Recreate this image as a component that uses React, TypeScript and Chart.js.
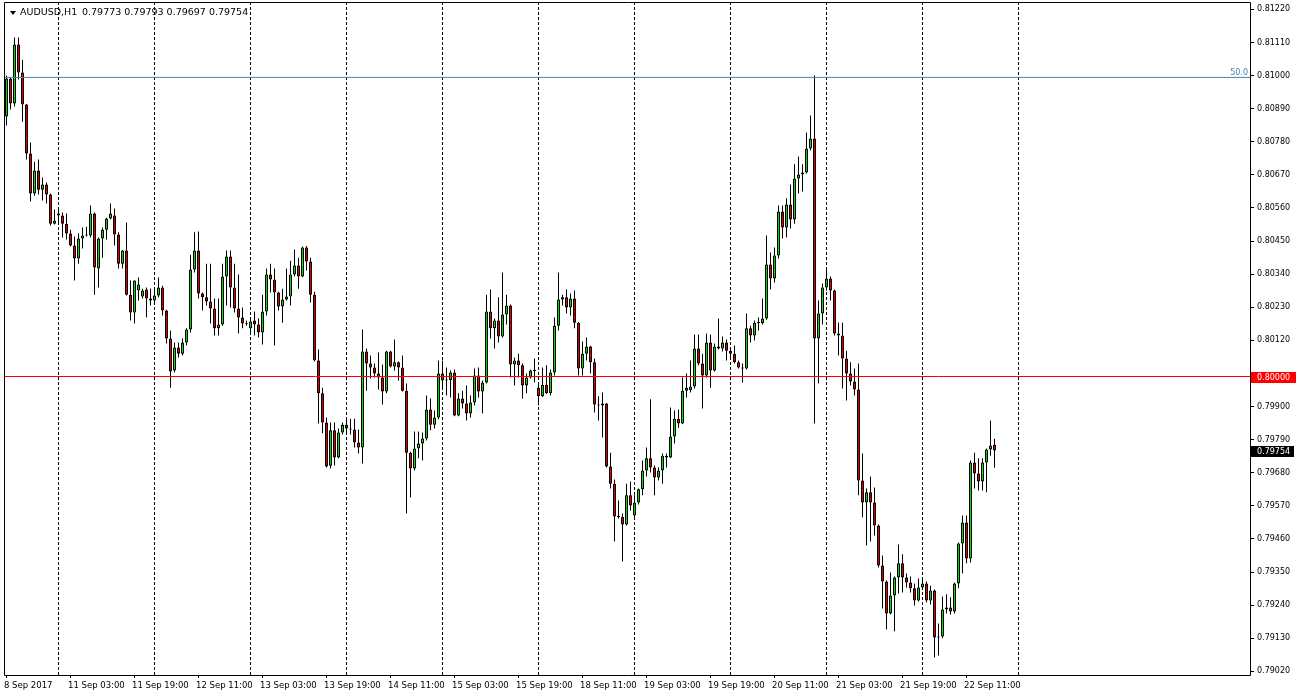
import { useEffect, useRef } from "react";
import { Chart, registerables } from "chart.js";

Chart.register(...registerables);

const symbolName = "AUDUSD,H1";
const lastBarText = "0.79773 0.79793 0.79697 0.79754";
const lastClose = 0.79754;
const priceLevel = 0.8;
const fiboLevel = 0.80994;
const fiboText = "50.0";

const opens = [
  0.80864,0.80990,0.80907,0.81103,0.81010,0.80904,0.80741,0.80608,0.80685,0.80621,
  0.80638,0.80605,0.80508,0.80542,0.80535,0.80508,0.80475,0.80435,0.80392,0.80459,
  0.80469,0.80469,0.80542,0.80359,0.80459,0.80488,0.80525,0.80535,0.80472,0.80375,
  0.80419,0.80272,0.80213,0.80286,0.80266,0.80289,0.80259,0.80253,0.80269,0.80296,
  0.80219,0.80126,0.80020,0.80096,0.80076,0.80113,0.80156,0.80356,0.80419,0.80276,
  0.80263,0.80249,0.80226,0.80160,0.80173,0.80332,0.80399,0.80296,0.80226,0.80196,
  0.80176,0.80160,0.80186,0.80173,0.80146,0.80216,0.80339,0.80322,0.80279,0.80233,
  0.80256,0.80266,0.80339,0.80369,0.80332,0.80429,0.80382,0.80272,0.80053,0.79944,
  0.79847,0.79703,0.79821,0.79731,0.79814,0.79840,0.79827,0.79824,0.79781,0.79764,
  0.80083,0.80043,0.80030,0.80010,0.79997,0.79950,0.80083,0.80033,0.80047,0.80030,
  0.79953,0.79747,0.79694,0.79761,0.79777,0.79794,0.79890,0.79840,0.79864,0.80010,
  0.79987,0.79988,0.80013,0.79870,0.79927,0.79910,0.79877,0.79914,0.80003,0.79950,
  0.79980,0.80216,0.80160,0.80186,0.80133,0.80206,0.80236,0.80040,0.80053,0.80037,
  0.79970,0.79997,0.80020,0.79963,0.79934,0.79973,0.79944,0.80013,0.80169,0.80256,
  0.80263,0.80229,0.80259,0.80179,0.80027,0.80076,0.80100,0.80047,0.79907,0.79904,
  0.79910,0.79701,0.79644,0.79535,0.79533,0.79508,0.79605,0.79538,0.79581,0.79625,
  0.79688,0.79728,0.79698,0.79664,0.79688,0.79737,0.79731,0.79801,0.79860,0.79844,
  0.79953,0.79955,0.79967,0.80093,0.80043,0.80003,0.80113,0.80020,0.80100,0.80093,
  0.80113,0.80086,0.80076,0.80047,0.80030,0.80027,0.80160,0.80136,0.80179,0.80178,
  0.80193,0.80372,0.80326,0.80402,0.80548,0.80495,0.80572,0.80522,0.80658,0.80671,
  0.80678,0.80758,0.80791,0.80126,0.80209,0.80296,0.80326,0.80286,0.80143,0.80136,
  0.80060,0.80010,0.79983,0.79957,0.79654,0.79581,0.79615,0.79581,0.79505,0.79372,
  0.79319,0.79212,0.79272,0.79332,0.79379,0.79332,0.79315,0.79296,0.79256,0.79299,
  0.79312,0.79256,0.79289,0.79133,0.79136,0.79226,0.79232,0.79219,0.79312,0.79445,
  0.79515,0.79395,0.79714,0.79678,0.79651,0.79714,0.79757,0.79773,
];

const highs = [
  0.81000,0.80994,0.81127,0.81127,0.81053,0.80906,0.80778,0.80714,0.80721,0.80661,
  0.80645,0.80608,0.80555,0.80558,0.80545,0.80542,0.80488,0.80465,0.80475,0.80495,
  0.80498,0.80568,0.80545,0.80462,0.80495,0.80528,0.80575,0.80558,0.80479,0.80420,
  0.80512,0.80319,0.80319,0.80329,0.80292,0.80296,0.80292,0.80296,0.80329,0.80302,
  0.80222,0.80153,0.80113,0.80113,0.80126,0.80160,0.80405,0.80479,0.80482,0.80279,
  0.80375,0.80375,0.80259,0.80259,0.80375,0.80419,0.80419,0.80375,0.80339,0.80229,
  0.80186,0.80193,0.80216,0.80193,0.80272,0.80359,0.80375,0.80359,0.80282,0.80292,
  0.80359,0.80385,0.80422,0.80395,0.80432,0.80434,0.80395,0.80282,0.80090,0.79963,
  0.79864,0.79847,0.79847,0.79827,0.79847,0.79864,0.79860,0.79860,0.79824,0.80156,
  0.80093,0.80070,0.80043,0.80080,0.80040,0.80086,0.80086,0.80123,0.80050,0.80070,
  0.79977,0.79750,0.79817,0.79817,0.79814,0.79937,0.79927,0.79887,0.80053,0.80053,
  0.80030,0.80020,0.80023,0.79944,0.79953,0.79970,0.79937,0.80027,0.80030,0.79987,
  0.80272,0.80289,0.80193,0.80263,0.80346,0.80272,0.80239,0.80063,0.80076,0.80043,
  0.80010,0.80023,0.80060,0.79977,0.80030,0.80037,0.80023,0.80196,0.80346,0.80272,
  0.80289,0.80276,0.80286,0.80181,0.80116,0.80130,0.80102,0.80060,0.79934,0.79947,
  0.79912,0.79747,0.79658,0.79588,0.79545,0.79644,0.79651,0.79605,0.79628,0.79721,
  0.79764,0.79924,0.79704,0.79698,0.79744,0.79744,0.79897,0.79887,0.79890,0.79997,
  0.80010,0.80053,0.80140,0.80140,0.80076,0.80143,0.80140,0.80110,0.80193,0.80133,
  0.80123,0.80096,0.80103,0.80053,0.80043,0.80209,0.80169,0.80186,0.80196,0.80259,
  0.80469,0.80412,0.80429,0.80568,0.80568,0.80592,0.80638,0.80705,0.80731,0.80705,
  0.80811,0.80867,0.81000,0.80253,0.80309,0.80359,0.80332,0.80289,0.80179,0.80179,
  0.80086,0.80047,0.80027,0.80043,0.79744,0.79628,0.79668,0.79631,0.79508,0.79405,
  0.79322,0.79349,0.79335,0.79442,0.79409,0.79345,0.79335,0.79312,0.79329,0.79332,
  0.79319,0.79305,0.79292,0.79179,0.79269,0.79276,0.79266,0.79315,0.79448,0.79538,
  0.79538,0.79721,0.79747,0.79728,0.79728,0.79761,0.79854,0.79793,
];

const lows = [
  0.80834,0.80887,0.80897,0.80987,0.80847,0.80721,0.80582,0.80601,0.80605,0.80585,
  0.80575,0.80502,0.80505,0.80508,0.80462,0.80455,0.80432,0.80319,0.80375,0.80425,
  0.80465,0.80462,0.80272,0.80296,0.80395,0.80455,0.80522,0.80435,0.80359,0.80359,
  0.80269,0.80186,0.80176,0.80253,0.80259,0.80196,0.80236,0.80243,0.80263,0.80203,
  0.80110,0.79963,0.80013,0.80063,0.80070,0.80103,0.80146,0.80346,0.80259,0.80219,
  0.80236,0.80176,0.80136,0.80136,0.80169,0.80236,0.80229,0.80213,0.80143,0.80160,
  0.80169,0.80143,0.80136,0.80130,0.80106,0.80203,0.80279,0.80103,0.80219,0.80179,
  0.80253,0.80236,0.80332,0.80292,0.80330,0.80352,0.80246,0.80050,0.79844,0.79811,
  0.79698,0.79694,0.79704,0.79728,0.79807,0.79811,0.79807,0.79764,0.79744,0.79711,
  0.79953,0.79993,0.79997,0.79957,0.79907,0.79944,0.80030,0.80020,0.79987,0.79950,
  0.79545,0.79598,0.79688,0.79728,0.79721,0.79787,0.79821,0.79827,0.79858,0.79960,
  0.79937,0.79930,0.79868,0.79868,0.79894,0.79854,0.79864,0.79904,0.79930,0.79877,
  0.79977,0.80126,0.80093,0.80113,0.80130,0.80173,0.79997,0.79970,0.79997,0.79927,
  0.79944,0.79993,0.79980,0.79904,0.79932,0.79942,0.79937,0.80003,0.80153,0.80236,
  0.80209,0.80203,0.80160,0.80003,0.80003,0.80053,0.80010,0.79880,0.79854,0.79797,
  0.79698,0.79628,0.79452,0.79528,0.79385,0.79505,0.79555,0.79532,0.79575,0.79605,
  0.79668,0.79681,0.79605,0.79654,0.79644,0.79698,0.79729,0.79777,0.79830,0.79842,
  0.79930,0.79947,0.79960,0.80037,0.79894,0.79997,0.79963,0.80017,0.80090,0.80083,
  0.80053,0.80063,0.80043,0.80027,0.79980,0.80023,0.80113,0.80120,0.80153,0.80173,
  0.80189,0.80289,0.80312,0.80392,0.80459,0.80462,0.80492,0.80508,0.80608,0.80615,
  0.80675,0.80751,0.79844,0.79977,0.80173,0.80286,0.80253,0.80136,0.80070,0.79960,
  0.79920,0.79970,0.79937,0.79605,0.79532,0.79438,0.79452,0.79472,0.79365,0.79229,
  0.79159,0.79210,0.79153,0.79279,0.79282,0.79299,0.79282,0.79239,0.79252,0.79292,
  0.79249,0.79242,0.79066,0.79073,0.79130,0.79212,0.79209,0.79212,0.79296,0.79345,
  0.79379,0.79382,0.79628,0.79621,0.79621,0.79615,0.79737,0.79697,
];

const closes = [
  0.80990,0.80907,0.81103,0.81010,0.80904,0.80741,0.80608,0.80685,0.80621,0.80638,
  0.80605,0.80508,0.80518,0.80535,0.80508,0.80475,0.80435,0.80392,0.80459,0.80469,
  0.80470,0.80542,0.80362,0.80459,0.80488,0.80525,0.80542,0.80472,0.80375,0.80419,
  0.80272,0.80213,0.80319,0.80306,0.80286,0.80259,0.80253,0.80269,0.80296,0.80219,
  0.80126,0.80017,0.80096,0.80076,0.80113,0.80156,0.80356,0.80419,0.80276,0.80263,
  0.80249,0.80226,0.80160,0.80173,0.80332,0.80399,0.80296,0.80226,0.80196,0.80176,
  0.80174,0.80183,0.80173,0.80146,0.80216,0.80339,0.80322,0.80279,0.80233,0.80256,
  0.80266,0.80339,0.80369,0.80332,0.80429,0.80382,0.80272,0.80053,0.79944,0.79847,
  0.79701,0.79821,0.79731,0.79814,0.79840,0.79827,0.79824,0.79781,0.79764,0.80083,
  0.80043,0.80030,0.80010,0.79997,0.79950,0.80083,0.80033,0.80047,0.80030,0.79953,
  0.79747,0.79694,0.79761,0.79777,0.79794,0.79890,0.79840,0.79864,0.80010,0.79987,
  0.79988,0.80013,0.79870,0.79927,0.79910,0.79877,0.79914,0.80003,0.79950,0.79980,
  0.80216,0.80160,0.80186,0.80133,0.80206,0.80236,0.80040,0.80053,0.80037,0.79970,
  0.79997,0.80020,0.80018,0.79934,0.79973,0.79944,0.80013,0.80169,0.80256,0.80263,
  0.80229,0.80259,0.80179,0.80027,0.80076,0.80100,0.80047,0.79907,0.79904,0.79910,
  0.79701,0.79644,0.79535,0.79533,0.79508,0.79605,0.79571,0.79581,0.79625,0.79688,
  0.79728,0.79698,0.79664,0.79688,0.79737,0.79731,0.79801,0.79860,0.79844,0.79953,
  0.79963,0.79967,0.80093,0.80043,0.80003,0.80113,0.80020,0.80100,0.80093,0.80113,
  0.80086,0.80076,0.80047,0.80030,0.80027,0.80160,0.80136,0.80179,0.80178,0.80193,
  0.80372,0.80326,0.80402,0.80548,0.80495,0.80572,0.80522,0.80658,0.80671,0.80678,
  0.80758,0.80791,0.80126,0.80209,0.80296,0.80326,0.80286,0.80143,0.80136,0.80060,
  0.80010,0.79983,0.79957,0.79654,0.79581,0.79615,0.79581,0.79505,0.79372,0.79319,
  0.79212,0.79272,0.79332,0.79379,0.79332,0.79315,0.79296,0.79256,0.79299,0.79312,
  0.79256,0.79289,0.79133,0.79136,0.79226,0.79232,0.79219,0.79312,0.79445,0.79515,
  0.79395,0.79714,0.79678,0.79651,0.79714,0.79757,0.79771,0.79754,
];

const timeLabelIdx = [0, 16, 32, 48, 64, 80, 96, 112, 128, 144, 160, 176, 192, 208, 224, 240];
const timeLabels = [
  "8 Sep 2017", "11 Sep 03:00", "11 Sep 19:00", "12 Sep 11:00", "13 Sep 03:00",
  "13 Sep 19:00", "14 Sep 11:00", "15 Sep 03:00", "15 Sep 19:00", "18 Sep 11:00",
  "19 Sep 03:00", "19 Sep 19:00", "20 Sep 11:00", "21 Sep 03:00", "21 Sep 19:00",
  "22 Sep 11:00",
];
const separatorIdx = [13, 37, 61, 85, 109, 133, 157, 181, 205, 229, 253];
const yTicks = [
  0.8122, 0.8111, 0.81, 0.8089, 0.8078, 0.8067, 0.8056, 0.8045, 0.8034, 0.8023, 0.8012,
  0.8001, 0.799, 0.7979, 0.7968, 0.7957, 0.7946, 0.7935, 0.7924, 0.7913, 0.7902,
];

const X_MIN = -0.625;
const X_MAX = X_MIN + 1246 / 4;
const Y_MIN = 0.79008;
const Y_MAX = 0.812446;

const FONT = "DejaVu Sans";
const BULL = "#00E000";
const BEAR = "#E00000";

const overlayPlugin = {
  id: "mt4Overlay",
  afterDraw(chart: any) {
    const { ctx, chartArea: a, scales } = chart;
    const ys = scales.y;
    ctx.save();
    ctx.strokeStyle = "#000";
    ctx.lineWidth = 1;
    ctx.beginPath();
    ctx.rect(a.left + 0.5, a.top + 0.5, a.right - a.left, a.bottom - a.top);
    ctx.stroke();

    ctx.fillStyle = "#000";
    ctx.beginPath();
    ctx.moveTo(10, 11);
    ctx.lineTo(16, 11);
    ctx.lineTo(13, 15);
    ctx.closePath();
    ctx.fill();
    ctx.textBaseline = "middle";
    ctx.textAlign = "left";
    ctx.font = `9.5px "${FONT}"`;
    ctx.fillText(symbolName, 20, 13);
    ctx.fillText(lastBarText, 82, 13);

    const fy = ys.getPixelForValue(fiboLevel);
    ctx.fillStyle = "#4682B4";
    ctx.textAlign = "right";
    ctx.textBaseline = "bottom";
    ctx.font = `8px "${FONT}"`;
    ctx.fillText(fiboText, a.right - 2, fy - 0.5);

    const boxes = [
      { v: priceLevel, bg: "#FF0000", w: 45 },
      { v: lastClose, bg: "#000000", w: 43 },
    ];
    ctx.textAlign = "left";
    ctx.textBaseline = "middle";
    ctx.font = `8px "${FONT}"`;
    for (const b of boxes) {
      const py = Math.round(ys.getPixelForValue(b.v));
      ctx.fillStyle = b.bg;
      ctx.fillRect(a.right + 1, py - 5, b.w, 11);
      ctx.fillStyle = "#FFFFFF";
      ctx.fillText(b.v.toFixed(5), a.right + 7, py + 0.5);
    }
    ctx.restore();
  },
};

export default function App() {
  const ref = useRef<HTMLCanvasElement | null>(null);

  useEffect(() => {
    document.body.style.margin = "0";
    document.body.style.background = "#fff";
    const canvas = ref.current;
    if (!canvas) return;

    const bodies = opens.map((o, i) => ({ x: i, y: [o, closes[i]] }));
    const wicks = highs.map((h, i) => ({ x: i, y: [lows[i], h] }));
    const bodyColors = opens.map((o, i) => (closes[i] >= o ? BULL : BEAR));

    const chart = new Chart(canvas, {
      type: "bar",
      data: {
        datasets: [
          {
            type: "line",
            data: [
              { x: X_MIN, y: priceLevel },
              { x: X_MAX, y: priceLevel },
            ],
            borderColor: "#FF0000",
            borderWidth: 1,
            pointRadius: 0,
            xAxisID: "x",
            yAxisID: "y",
          } as any,
          {
            type: "line",
            data: [
              { x: X_MIN, y: fiboLevel },
              { x: X_MAX, y: fiboLevel },
            ],
            borderColor: "#4682B4",
            borderWidth: 1,
            pointRadius: 0,
            xAxisID: "x",
            yAxisID: "y",
          } as any,
          {
            type: "bar",
            data: bodies as any,
            backgroundColor: bodyColors,
            borderColor: "#000",
            borderWidth: 1,
            borderSkipped: false,
            barThickness: 3,
            maxBarThickness: 3,
            minBarLength: 1,
            grouped: false,
            inflateAmount: 0,
            xAxisID: "x",
            yAxisID: "y",
          } as any,
          {
            type: "bar",
            data: wicks as any,
            backgroundColor: "#000",
            borderWidth: 0,
            barThickness: 1,
            maxBarThickness: 1,
            minBarLength: 1,
            grouped: false,
            inflateAmount: 0,
            xAxisID: "x",
            yAxisID: "y",
          } as any,
        ],
      },
      options: {
        animation: false,
        responsive: false,
        devicePixelRatio: 1,
        events: [],
        layout: { padding: { left: 4, top: 2, right: 0, bottom: 0 } },
        plugins: { legend: { display: false }, tooltip: { enabled: false } },
        scales: {
          x: {
            type: "linear",
            position: "bottom",
            min: X_MIN,
            max: X_MAX,
            bounds: "data",
            offset: false,
            afterFit: (s: any) => {
              s.height = 23;
              s.paddingLeft = 0;
              s.paddingRight = 0;
            },
            afterBuildTicks: (s: any) => {
              s.ticks = timeLabelIdx.map((v) => ({ value: v }));
            },
            ticks: {
              autoSkip: false,
              maxRotation: 0,
              minRotation: 0,
              align: "start",
              labelOffset: -2.5,
              padding: 3,
              color: "#000",
              font: { family: FONT, size: 8.5 },
              callback: (v: any) => {
                const k = timeLabelIdx.indexOf(Number(v));
                return k >= 0 ? timeLabels[k] : "";
              },
            },
            grid: { offset: false, drawOnChartArea: false, drawTicks: true, tickLength: 3, color: "#000" },
            border: { display: false },
          },
          xg: {
            type: "linear",
            position: "bottom",
            min: X_MIN,
            max: X_MAX,
            bounds: "data",
            offset: false,
            afterFit: (s: any) => {
              s.height = 0;
              s.paddingLeft = 0;
              s.paddingRight = 0;
            },
            afterBuildTicks: (s: any) => {
              s.ticks = separatorIdx.map((v) => ({ value: v }));
            },
            ticks: { display: false },
            grid: { offset: false, drawOnChartArea: true, drawTicks: false, color: "#000", lineWidth: 1, borderDash: [3, 2] } as any,
            border: { display: false, dash: [3, 2] },
          },
          y: {
            type: "linear",
            position: "right",
            min: Y_MIN,
            max: Y_MAX,
            bounds: "data",
            afterFit: (s: any) => {
              s.width = 46;
              s.paddingTop = 0;
              s.paddingBottom = 0;
            },
            afterBuildTicks: (s: any) => {
              s.ticks = yTicks.map((v) => ({ value: v }));
            },
            ticks: {
              color: "#000",
              padding: 3,
              font: { family: FONT, size: 8 },
              callback: (v: any) => {
                const n = Number(v);
                if (Math.abs(n - priceLevel) < 0.0002) return "";
                return n.toFixed(5);
              },
            },
            grid: { drawOnChartArea: false, drawTicks: true, tickLength: 4, color: "#000" },
            border: { display: false },
          },
        },
      } as any,
      plugins: [overlayPlugin],
    });

    return () => chart.destroy();
  }, []);

  return (
    <div style={{ width: 1296, height: 698, position: "relative", background: "#fff" }}>
      <canvas ref={ref} width={1296} height={698} style={{ display: "block" }} />
    </div>
  );
}
